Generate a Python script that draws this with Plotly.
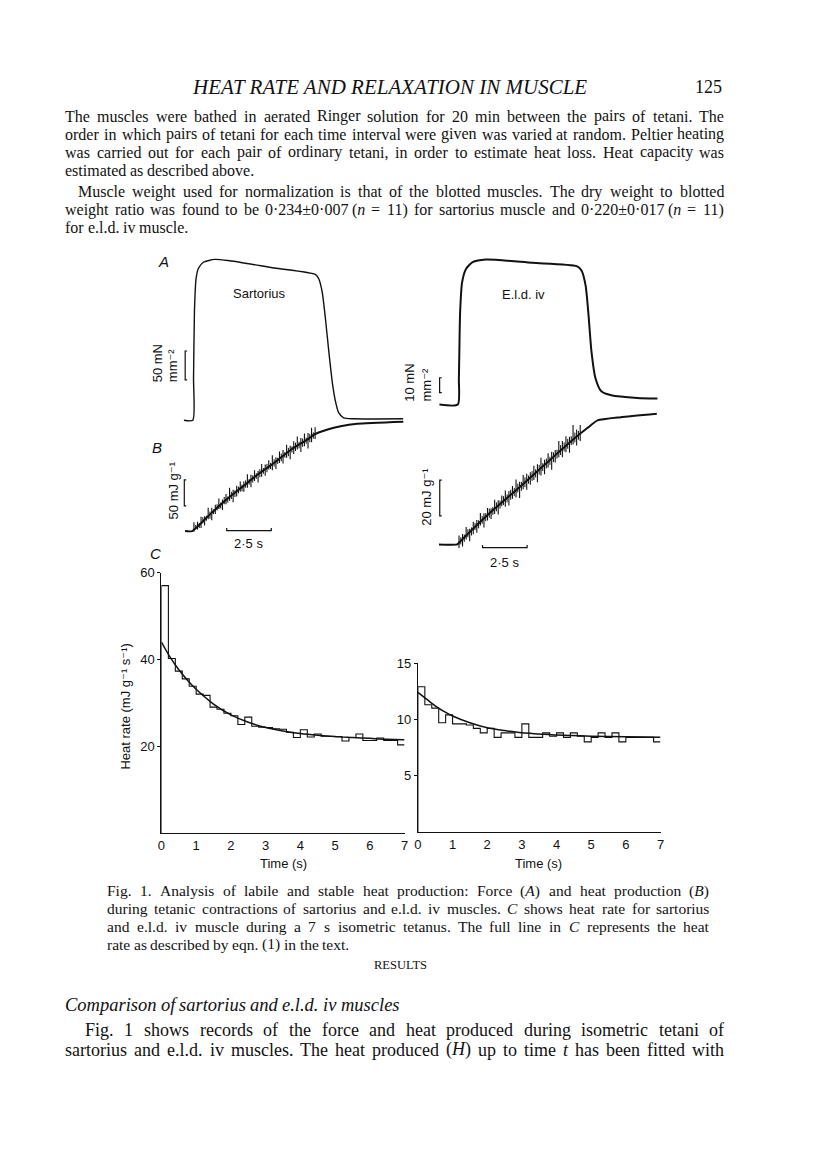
import plotly.graph_objects as go

W, H = 816, 1160
INK = "#111111"
SERIF = "Liberation Serif, Times New Roman, serif"
SANS = "Liberation Sans, Arial, DejaVu Sans, sans-serif"

# ---------------- data ----------------
# Panel A: force (mN mm^-2) against time (s)
A_sart_t = [-0.5, 0, 0.04, 0.09, 0.18, 0.31, 0.59, 1.24, 1.98, 4.57, 6.89, 7.07, 7.26, 7.44, 7.63, 7.82, 8.0, 8.18, 8.46, 9.02, 11.8]
A_sart_f = [0, 0, 73, 188, 245, 263, 274, 279, 277, 264, 252.6, 245, 222, 176, 119, 67, 33, 13, 4, 2.4, 2.4]
A_eld_t = [-1.03, 0, 0.06, 0.13, 0.24, 0.46, 0.83, 1.57, 4.17, 6.67, 6.94, 7.17, 7.32, 7.5, 7.72, 8.05, 8.61, 10.08, 11.2]
A_eld_f = [0, 0, 17.8, 62, 82, 91, 95.5, 97.3, 95.1, 92.9, 90, 80, 62, 35.5, 17.8, 8.9, 6.2, 4.4, 4.0]

# Panel B: heat (mJ g^-1) against time (s): smooth record and stimulus artefacts
B_sart_t = [-0.4, 0, 0.93, 1.85, 2.78, 3.7, 4.63, 5.56, 6.48, 6.85, 7.6, 8.33, 9.26, 11.85]
B_sart_h = [0, 0, 30, 59, 84.6, 110, 132.7, 158, 177.5, 187, 196.7, 203, 207.7, 211.5]
B_eld_t = [-1.02, 0, 0.1, 1.76, 3.61, 5.46, 6.67, 7.32, 7.87, 9.17, 11.2]
B_eld_h = [0, 0, 1, 17, 33, 49.5, 60, 65.2, 69.3, 71.1, 73]

spike_t = [0.1, 0.3, 0.5, 0.7, 0.9, 1.1, 1.3, 1.5, 1.7, 1.9, 2.1, 2.3, 2.5, 2.7, 2.9, 3.1, 3.3, 3.5,
           3.7, 3.9, 4.1, 4.3, 4.5, 4.7, 4.9, 5.1, 5.3, 5.5, 5.7, 5.9, 6.1, 6.3, 6.5, 6.7, 6.9]
spike_sart_hi = [17, 18, 28, 29, 45, 45, 51, 63, 61, 72, 84, 80, 88, 96, 96, 110, 109, 118,
                 117, 130, 129, 137, 147, 143, 154, 157, 167, 165, 174, 183, 180, 189, 190, 200, 201]
spike_sart_lo = [-1, 3, 6, 11, 23, 21, 33, 43, 41, 52, 59, 56, 67, 76, 76, 84, 85, 97,
                 94, 105, 107, 119, 118, 120, 132, 131, 142, 139, 149, 158, 153, 164, 160, 172, 178]
spike_eld_hi = [5, 5.9, 9.8, 8.8, 12.7, 13.6, 17.6, 17.5, 20.4, 20.2, 25, 24.7, 27.4, 30.1, 29.8, 32.6, 36.3, 35,
                38.8, 39.5, 40.3, 44, 44.8, 48.5, 47.3, 51, 51.8, 52.8, 57.8, 57.8, 60.5, 60.2, 66.8, 64.3, 66.8]
spike_eld_lo = [-2, -1.1, 2.8, 1.8, 5.7, 6.6, 10.6, 9.5, 13.4, 14.2, 17, 16.7, 21.4, 21.1, 21.8, 25.6, 26.3, 26,
                30.8, 30.5, 33.3, 36, 34.8, 38.5, 39.3, 43, 41.8, 45.8, 48.8, 48.8, 51.5, 51.2, 55.8, 55.3, 57.8]
# smaller artefacts between the main ones
spike2_t = [0.2, 0.4, 0.6, 0.8, 1.0, 1.2, 1.4, 1.6, 1.8, 2.0, 2.2, 2.4, 2.6, 2.8, 3.0, 3.2, 3.4,
            3.6, 3.8, 4.0, 4.2, 4.4, 4.6, 4.8, 5.0, 5.2, 5.4, 5.6, 5.8, 6.0, 6.2, 6.4, 6.6, 6.8]
spike2_sart_hi = [12, 16, 27, 30, 38, 42, 52, 55, 66, 67, 76, 79, 86, 90, 98, 101, 108,
                  112, 120, 122, 130, 132, 139, 142, 150, 153, 161, 164, 171, 173, 179, 181, 188, 191]
spike2_sart_lo = [4, 6, 15, 20, 24, 33, 40, 44, 52, 55, 62, 66, 73, 77, 84, 90, 94,
                  101, 104, 111, 114, 120, 125, 130, 135, 142, 145, 152, 155, 160, 163, 169, 172, 179]
spike2_eld_hi = [4, 5.5, 8.5, 9.5, 12, 13.5, 16, 17.5, 20, 21, 23.5, 24.5, 27, 28, 30.5, 31.5, 34,
                 35, 37.5, 38.5, 41, 42, 44.5, 45.5, 48, 49, 51.5, 53, 55.5, 57, 59, 60.5, 62.5, 63.5]
spike2_eld_lo = [0, 1.5, 4, 5, 8, 9, 11.5, 13, 15, 16.5, 18.5, 20, 22, 23.5, 25, 27, 29,
                 30, 32, 34, 35.5, 37.5, 39, 41, 42.5, 44.5, 46, 48, 50, 52, 53.5, 55.5, 57, 58.5]

# Scale bars
scale_A_sart = 50   # mN mm^-2
scale_A_eld = 10    # mN mm^-2
scale_B_sart = 50   # mJ g^-1
scale_B_eld = 20    # mJ g^-1
scale_time = 2.5    # s

# Panel C: heat rate (mJ g^-1 s^-1), 0.2 s bins
bin_edges = [0.0, 0.2, 0.4, 0.6, 0.8, 1.0, 1.2, 1.4, 1.6, 1.8, 2.0, 2.2, 2.4, 2.6, 2.8, 3.0, 3.2, 3.4,
             3.6, 3.8, 4.0, 4.2, 4.4, 4.6, 4.8, 5.0, 5.2, 5.4, 5.6, 5.8, 6.0, 6.2, 6.4, 6.6, 6.8, 7.0]
C_sart_rate = [57, 40.2, 37.3, 35.5, 33.8, 32.0, 31.7, 29.0, 28.5, 27.6, 27.0, 25.0, 26.7, 24.6, 24.4, 24.3, 24.0, 23.9,
               23.2, 22.0, 23.8, 22.1, 22.8, 22.3, 22.3, 22.2, 21.2, 22.0, 22.8, 21.3, 21.3, 21.9, 21.3, 21.3, 20.3]
C_eld_rate = [12.9, 11.3, 11.0, 9.7, 10.4, 9.6, 9.6, 9.5, 9.2, 8.8, 9.2, 8.4, 8.8, 8.8, 8.4, 9.6, 8.4, 8.4,
              8.8, 8.5, 8.8, 8.4, 8.8, 8.5, 8.0, 8.4, 8.8, 8.4, 8.8, 8.0, 8.4, 8.4, 8.4, 8.4, 8.0]
fit_sart_t = [0, 0.25, 0.5, 0.75, 1, 1.5, 2, 2.5, 3, 3.5, 4, 4.5, 5, 5.5, 6, 6.5, 7]
fit_sart = [44, 40.5, 37.6, 35.2, 33.1, 29.7, 27.2, 25.5, 24.3, 23.5, 22.9, 22.5, 22.2, 22.0, 21.8, 21.6, 21.5]
fit_eld_t = [0, 0.25, 0.5, 0.75, 1, 1.5, 2, 2.5, 3, 3.5, 4, 5, 6, 7]
fit_eld = [12.4, 11.8, 11.2, 10.7, 10.3, 9.7, 9.25, 9.0, 8.8, 8.7, 8.6, 8.5, 8.45, 8.4]
C_xticks = [0, 1, 2, 3, 4, 5, 6, 7]
C_sart_yticks = [20, 40, 60]
C_eld_yticks = [5, 10, 15]

# ---------------- text ----------------
header = "HEAT RATE AND RELAXATION IN MUSCLE"
page_no = "125"
para_lines = [
    "The muscles were bathed in aerated Ringer solution for 20 min between the pairs of tetani. The",
    "order in which pairs of tetani for each time interval were given was varied at random. Peltier heating",
    "was carried out for each pair of ordinary tetani, in order to estimate heat loss. Heat capacity was",
    "estimated as described above.",
    "Muscle weight used for normalization is that of the blotted muscles. The dry weight to blotted",
    "weight ratio was found to be 0·234±0·007 (_n_ = 11) for sartorius muscle and 0·220±0·017 (_n_ = 11)",
    "for e.l.d. iv muscle.",
]
caption_lines = [
    "Fig. 1. Analysis of labile and stable heat production: Force (_A_) and heat production (_B_)",
    "during tetanic contractions of sartorius and e.l.d. iv muscles. _C_ shows heat rate for sartorius",
    "and e.l.d. iv muscle during a 7 s isometric tetanus. The full line in _C_ represents the heat",
    "rate as described by eqn. (1) in the text.",
]
results_head = "RESULTS"
subhead = "Comparison of sartorius and e.l.d. iv muscles"
results_lines = [
    "Fig. 1 shows records of the force and heat produced during isometric tetani of",
    "sartorius and e.l.d. iv muscles. The heat produced (_H_) up to time _t_ has been fitted with",
]

# ---------------- helpers ----------------
ROMAN = {' ': 250, 'a': 444, 'b': 500, 'c': 444, 'd': 500, 'e': 444, 'f': 333, 'g': 500, 'h': 500, 'i': 278,
         'j': 278, 'k': 500, 'l': 278, 'm': 778, 'n': 500, 'o': 500, 'p': 500, 'q': 500, 'r': 333, 's': 389,
         't': 278, 'u': 500, 'v': 500, 'w': 722, 'x': 500, 'y': 500, 'z': 444,
         'A': 722, 'B': 667, 'C': 667, 'D': 722, 'E': 611, 'F': 556, 'G': 722, 'H': 722, 'I': 333, 'J': 389,
         'K': 722, 'L': 611, 'M': 889, 'N': 722, 'O': 722, 'P': 556, 'Q': 722, 'R': 667, 'S': 556, 'T': 611,
         'U': 722, 'V': 722, 'W': 944, 'X': 722, 'Y': 722, 'Z': 611,
         '.': 250, ',': 250, ':': 278, ';': 278, '(': 333, ')': 333, '=': 564, '±': 564, '·': 250, '-': 333}
ITALIC = {'a': 500, 'c': 444, 'e': 444, 'f': 278, 'h': 500, 'i': 278, 'l': 278, 'm': 722, 'n': 500, 'o': 500,
          'p': 500, 'r': 389, 's': 389, 't': 278, 'u': 500, 'v': 444, 'w': 667, 'y': 444,
          'A': 611, 'B': 611, 'C': 667, 'H': 722}


def parse(word):
    segs, it, buf = [], False, ""
    for ch in word:
        if ch == "_":
            if buf:
                segs.append((buf, it))
            buf, it = "", not it
        else:
            buf += ch
    if buf:
        segs.append((buf, it))
    return segs


def word_width(word, size, all_italic=False):
    w = 0
    for s, it in parse(word):
        for ch in s:
            tab = ITALIC if (it or all_italic) else ROMAN
            w += tab.get(ch, ROMAN.get(ch, 500))
    return w / 1000 * size


def word_html(word):
    return "".join(("<i>%s</i>" % s) if it else s for s, it in parse(word))


annotations = []


def put(text, px, py, size, family=SANS, xanchor="center", angle=0, italic=False):
    annotations.append(dict(x=px / W, y=1 - py / H, xref="paper", yref="paper", text=text,
                            showarrow=False, xanchor=xanchor, yanchor="middle", textangle=angle,
                            font=dict(family=family, size=size, color=INK, style="italic" if italic else "normal")))


def line(text, py, x0, x1, size, justify=True, all_italic=False):
    words = text.split(" ")
    widths = [word_width(w, size, all_italic) for w in words]
    if justify and len(words) > 1:
        gap = max((x1 - x0 - sum(widths)) / (len(words) - 1), 0.12 * size)
    else:
        gap = 0.25 * size
    x = x0
    for w, wd in zip(words, widths):
        put(word_html(w), x - 2, py, size, family=SERIF, xanchor="left", italic=all_italic)
        x += wd + gap


def xdom(p0, p1):
    return [p0 / W, p1 / W]


def ydom(top, bot):
    return [1 - bot / H, 1 - top / H]


def xr(p0, p1, o, s):
    return [(p0 - o) / s, (p1 - o) / s]


def yr(top, bot, o, s):
    return [(o - bot) / s, (o - top) / s]


fig = go.Figure()

def add(x, y, ax, width=1.3, shape="linear", smooth=None, color=INK):
    ln = dict(color=color, width=width, shape=shape)
    if smooth is not None:
        ln["smoothing"] = smooth
    fig.add_trace(go.Scatter(x=x, y=y, mode="lines", line=ln, xaxis="x" + ax, yaxis="y" + ax,
                             hoverinfo="skip", connectgaps=False))

# ---- A ----
add(A_sart_t, A_sart_f, "", width=1.4, shape="spline", smooth=0.6)
add(A_eld_t, A_eld_f, "2", width=2.0, shape="spline", smooth=0.6)
# force scale bars ("[" shape)
add([-0.32, -0.43, -0.43, -0.32], [70 + scale_A_sart, 70 + scale_A_sart, 70, 70], "", width=1.2)
add([-0.9, -1.02, -1.02, -0.9], [8 + scale_A_eld, 8 + scale_A_eld, 8, 8], "2", width=1.2)

# ---- B ----
def spikes(ts, lo, hi):
    xs, ys = [], []
    for t, a, b in zip(ts, lo, hi):
        xs += [t, t, None]
        ys += [a, b, None]
    return xs, ys

add(B_sart_t, B_sart_h, "3", width=2.0, shape="spline", smooth=0.5)
sx, sy = spikes(spike_t, spike_sart_lo, spike_sart_hi)
add(sx, sy, "3", width=1.1)
sx, sy = spikes(spike2_t, spike2_sart_lo, spike2_sart_hi)
add(sx, sy, "3", width=1.0)
add(B_eld_t, B_eld_h, "4", width=2.0, shape="spline", smooth=0.5)
sx, sy = spikes(spike_t, spike_eld_lo, spike_eld_hi)
add(sx, sy, "4", width=1.1)
sx, sy = spikes(spike2_t, spike2_eld_lo, spike2_eld_hi)
add(sx, sy, "4", width=1.0)
add([-0.33, -0.44, -0.44, -0.33], [49 + scale_B_sart, 49 + scale_B_sart, 49, 49], "3", width=1.2)
add([-0.87, -0.98, -0.98, -0.87], [16 + scale_B_eld, 16 + scale_B_eld, 16, 16], "4", width=1.2)
# time bars
add([1.94, 1.94, 1.94 + scale_time, 1.94 + scale_time], [6, 1, 1, 6], "3", width=1.2)
add([1.42, 1.42, 1.42 + scale_time, 1.42 + scale_time], [-0.3, -1.8, -1.8, -0.3], "4", width=1.2)

# ---- C ----
add([0] + bin_edges, [0] + C_sart_rate + [C_sart_rate[-1], 0], "5", width=1.1, shape="hv")
add(fit_sart_t, fit_sart, "5", width=1.5, shape="spline", smooth=0.8)
add([0] + bin_edges, [0] + C_eld_rate + [C_eld_rate[-1]], "6", width=1.1, shape="hv")
add(fit_eld_t, fit_eld, "6", width=1.5, shape="spline", smooth=0.8)

hidden = dict(visible=False, fixedrange=True)
tickf = dict(family=SANS, size=13, color=INK)
cx = dict(showline=True, linecolor=INK, linewidth=1, ticks="", showgrid=False, zeroline=False,
          tickfont=tickf, tickvals=C_xticks, range=[0, 7])
cy = dict(showline=True, linecolor=INK, linewidth=1, ticks="outside", ticklen=3, tickcolor=INK,
          showgrid=False, zeroline=False, tickfont=tickf)

fig.update_layout(
    width=W, height=H, margin=dict(l=0, r=0, t=0, b=0), autosize=False,
    paper_bgcolor="white", plot_bgcolor="rgba(0,0,0,0)", showlegend=False,
    xaxis=dict(domain=xdom(150, 420), range=xr(150, 420, 190.7, 18), anchor="y", **hidden),
    yaxis=dict(domain=ydom(240, 440), range=yr(240, 440, 415.7, 0.58), anchor="x", **hidden),
    xaxis2=dict(domain=xdom(400, 680), range=xr(400, 680, 458.3, 18), anchor="y2", **hidden),
    yaxis2=dict(domain=ydom(240, 440), range=yr(240, 440, 400, 1.5), anchor="x2", **hidden),
    xaxis3=dict(domain=xdom(150, 420), range=xr(150, 420, 190, 18), anchor="y3", **hidden),
    yaxis3=dict(domain=ydom(400, 570), range=yr(400, 570, 527.3, 0.52), anchor="x3", **hidden),
    xaxis4=dict(domain=xdom(400, 680), range=xr(400, 680, 457.7, 18), anchor="y4", **hidden),
    yaxis4=dict(domain=ydom(400, 570), range=yr(400, 570, 540.7, 1.8), anchor="x4", **hidden),
    xaxis5=dict(domain=xdom(159, 404.5), anchor="y5", **cx),
    yaxis5=dict(domain=ydom(569, 831), range=[0, 60], tickvals=C_sart_yticks, anchor="x5", **cy),
    xaxis6=dict(domain=xdom(418, 663), anchor="y6", **cx),
    yaxis6=dict(domain=ydom(660, 830), range=[0, 15], tickvals=C_eld_yticks, anchor="x6", **cy),
)

# ---- figure text ----
put("A", 161, 256, 15, italic=True)
put("B", 155, 443, 15, italic=True)
put("C", 153, 550, 15, italic=True)
put("Sartorius", 258, 288, 13)
put("E.l.d. iv", 525, 289, 13)
put("50 mN", 155, 358, 13, angle=-90)
put("mm⁻²", 171, 360, 13, angle=-90)
put("10 mN", 410, 378, 13, angle=-90)
put("mm⁻²", 427, 380, 13, angle=-90)
put("50 mJ g⁻¹", 171, 486, 13, angle=-90)
put("20 mJ g⁻¹", 426, 493, 13, angle=-90)
put("2·5 s", 247, 540, 13)
put("2·5 s", 505, 559, 13)
put("Heat rate (mJ g⁻¹ s⁻¹)", 123, 704, 13, angle=-90)
put("Time (s)", 282, 862, 13)
put("Time (s)", 540, 862, 13)

# ---- page text ----
put(header, 389, 80, 21, family=SERIF, italic=True)
put(page_no, 727, 80, 18, family=SERIF, xanchor="right")
para_y = [110, 128, 146, 164, 186, 204, 222]
para_x0 = [62, 62, 62, 62, 75, 62, 62]
para_just = [True, True, True, False, True, True, False]
for t, y, x0, j in zip(para_lines, para_y, para_x0, para_just):
    line(t, y, x0, 727, 16, justify=j)
cap_y = [889, 907, 925, 943]
for i, (t, y) in enumerate(zip(caption_lines, cap_y)):
    line(t, y, 104, 712, 15.5, justify=(i < 3))
put(results_head, 400, 964, 12.5, family=SERIF)
line(subhead, 1004, 62, 727, 18.5, justify=False, all_italic=True)
line(results_lines[0], 1029, 82, 727, 18)
line(results_lines[1], 1049, 62, 727, 18)

fig.update_layout(annotations=annotations)
fig.write_html("out.html", config={"displayModeBar": False, "staticPlot": True},
               post_script="document.body.style.margin='0px';document.body.style.overflow='hidden';")
